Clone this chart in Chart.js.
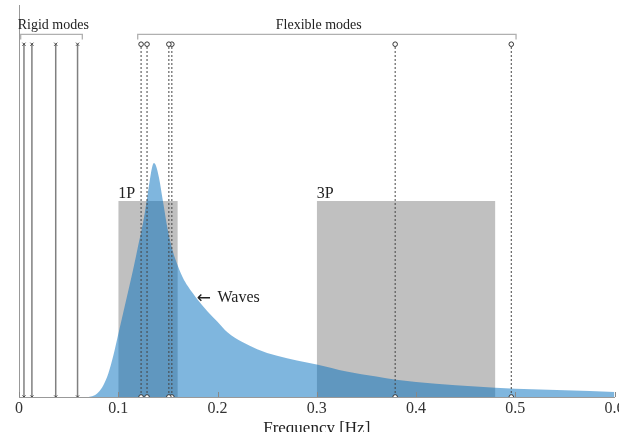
<!DOCTYPE html>
<html>
<head>
<meta charset="utf-8">
<script src="https://cdn.jsdelivr.net/npm/chart.js@4/dist/chart.umd.min.js"></script>
<style>
  html, body { margin: 0; padding: 0; overflow: hidden; background: #fff; }
  #wrap { width: 640px; height: 450px; }
</style>
</head>
<body>
<div id="wrap"><canvas id="modesChart" width="640" height="450"></canvas></div>
<script>
// x axis ticks
const xTicks = [0, 0.1, 0.2, 0.3, 0.4, 0.5, 0.6];
const xTickLabels = ["0", "0.1", "0.2", "0.3", "0.4", "0.5", "0.6"];

// wave spectrum (frequency in Hz, normalised amplitude)
const waveFreq = [0.070, 0.075, 0.080, 0.085, 0.090, 0.095, 0.100, 0.105, 0.110, 0.115,
  0.120, 0.125, 0.128, 0.131, 0.134, 0.136, 0.138, 0.141, 0.145, 0.150,
  0.155, 0.160, 0.165, 0.170, 0.175, 0.180, 0.190, 0.200, 0.210, 0.225, 0.240,
  0.260, 0.280, 0.300, 0.330, 0.360, 0.380, 0.420, 0.460, 0.500, 0.550, 0.600];
const waveAmp = [0, 0.003, 0.012, 0.030, 0.060, 0.105, 0.160, 0.215, 0.270, 0.325,
  0.385, 0.445, 0.490, 0.540, 0.585, 0.597, 0.590, 0.560, 0.500, 0.425,
  0.372, 0.335, 0.305, 0.283, 0.265, 0.248, 0.218, 0.192, 0.165, 0.140, 0.122,
  0.105, 0.093, 0.083, 0.065, 0.052, 0.044, 0.034, 0.027, 0.021, 0.017, 0.013];

// rotor excitation bands
const band1P = [0.1, 0.16];
const band3P = [0.3, 0.48];
const bandTop = 0.5;

// natural frequencies
const rigidFreqs = [0.005, 0.013, 0.037, 0.059];
const flexFreqs = [0.123, 0.129, 0.151, 0.154, 0.379, 0.496];
const modeTop = 0.9;

// brackets above the modes
const rigidBracket = [0.0017, 0.0638];
const flexBracket = [0.1196, 0.5008];
const bracketTop = 0.925;
const bracketFoot = 0.912;

const serif = "'Liberation Serif', 'DejaVu Serif', serif";

function bandData(band) {
  return [
    { x: band[0], y: 0 }, { x: band[0], y: bandTop },
    { x: band[1], y: bandTop }, { x: band[1], y: 0 }
  ];
}

function bracketData(b) {
  return [
    { x: b[0], y: bracketFoot }, { x: b[0], y: bracketTop },
    { x: b[1], y: bracketTop }, { x: b[1], y: bracketFoot }
  ];
}

const datasets = [];

// grey bands, drawn first
[band1P, band3P].forEach((b) => {
  datasets.push({
    data: bandData(b),
    fill: "origin",
    backgroundColor: "#c0c0c0",
    borderWidth: 0,
    pointRadius: 0,
    tension: 0,
    order: 10
  });
});

datasets.push({
  data: waveFreq.map((f, i) => ({ x: f, y: waveAmp[i] })),
  fill: "origin",
  backgroundColor: "rgba(0, 110, 190, 0.5)",
  borderWidth: 0,
  pointRadius: 0,
  cubicInterpolationMode: "monotone",
  order: 5
});

rigidFreqs.forEach((f) => {
  datasets.push({
    data: [{ x: f, y: 0 }, { x: f, y: modeTop }],
    borderColor: "#808080",
    borderWidth: 1.5,
    pointStyle: "crossRot",
    pointRadius: 2.2,
    pointBorderColor: "#444",
    pointBorderWidth: 1,
    fill: false,
    order: 1
  });
});

flexFreqs.forEach((f) => {
  datasets.push({
    data: [{ x: f, y: 0 }, { x: f, y: modeTop }],
    borderColor: "#444",
    borderWidth: 1,
    borderDash: [2, 2],
    pointStyle: "circle",
    pointRadius: 2.3,
    pointBackgroundColor: "#fff",
    pointBorderColor: "#333",
    pointBorderWidth: 1,
    fill: false,
    order: 0
  });
});

[rigidBracket, flexBracket].forEach((b) => {
  datasets.push({
    data: bracketData(b),
    borderColor: "#b0b0b0",
    borderWidth: 1.3,
    pointRadius: 0,
    fill: false,
    order: 2
  });
});

// text labels and inward tick marks
const annotations = {
  id: "annotations",
  afterDraw(chart) {
    const { ctx, scales: { x, y } } = chart;
    ctx.save();

    ctx.strokeStyle = "#888";
    ctx.lineWidth = 1;
    xTicks.forEach((t) => {
      const px = Math.round(x.getPixelForValue(t)) + 0.5;
      ctx.beginPath();
      ctx.moveTo(px, y.getPixelForValue(0));
      ctx.lineTo(px, y.getPixelForValue(0) - 5);
      ctx.stroke();
    });

    ctx.fillStyle = "#222";
    ctx.textBaseline = "alphabetic";

    ctx.font = "14px " + serif;
    ctx.textAlign = "center";
    ctx.fillText("Rigid modes", x.getPixelForValue(0.0345), y.getPixelForValue(0.94));
    ctx.fillText("Flexible modes", x.getPixelForValue(0.302), y.getPixelForValue(0.94));

    ctx.font = "16px " + serif;
    ctx.textAlign = "left";
    ctx.fillText("1P", x.getPixelForValue(band1P[0]), y.getPixelForValue(0.508));
    ctx.fillText("3P", x.getPixelForValue(band3P[0]), y.getPixelForValue(0.508));

    // arrow pointing at the spectrum, then its label
    ctx.font = "17px 'DejaVu Sans', sans-serif";
    ctx.fillText("\u2190", x.getPixelForValue(0.179), y.getPixelForValue(0.241));
    ctx.font = "16px " + serif;
    ctx.fillText("Waves", x.getPixelForValue(0.2), y.getPixelForValue(0.243));

    ctx.restore();
  }
};

const chart = new Chart(document.getElementById("modesChart"), {
  type: "line",
  data: { datasets: datasets },
  options: {
    responsive: false,
    animation: false,
    events: [],
    layout: { padding: { left: 19, top: 5, right: 25.5, bottom: 0 } },
    plugins: {
      legend: { display: false },
      tooltip: { enabled: false }
    },
    scales: {
      x: {
        type: "linear",
        min: 0,
        max: 0.6,
        afterFit: (s) => { s.height = 53; },
        afterBuildTicks: (s) => { s.ticks = xTicks.map((v) => ({ value: v })); },
        grid: { display: false, drawTicks: false },
        border: { display: true, color: "#999", width: 1 },
        ticks: {
          padding: 2,
          color: "#333",
          font: { family: serif, size: 16 },
          maxRotation: 0,
          callback: (v, i) => xTickLabels[i]
        },
        title: {
          display: true,
          text: "Frequency [Hz]",
          color: "#222",
          font: { family: serif, size: 17 },
          padding: { top: 0, bottom: 11 }
        }
      },
      y: {
        type: "linear",
        min: 0,
        max: 1,
        afterFit: (s) => { s.width = 0; },
        grid: { display: false, drawTicks: false },
        border: { display: true, color: "#999", width: 1 },
        ticks: { display: false }
      }
    }
  },
  plugins: [annotations]
});
</script>
</body>
</html>
